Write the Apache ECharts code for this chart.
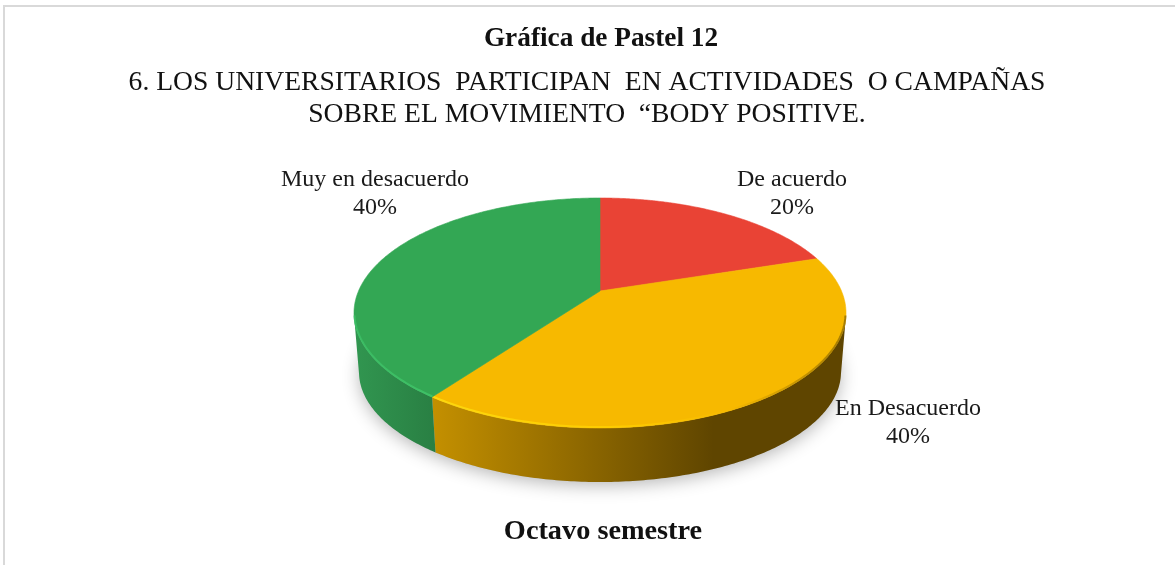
<!DOCTYPE html>
<html><head><meta charset="utf-8">
<style>html,body{margin:0;padding:0;background:#fff}#c{width:1175px;height:565px}</style>
<script src="https://cdn.jsdelivr.net/npm/echarts@6/dist/echarts.min.js"></script>
</head><body><div id="c"></div>
<script>
const categories = ['De acuerdo', 'En Desacuerdo', 'Muy en desacuerdo'];
const seriesValues = [20, 40, 40];
const sliceColors = ['#E94335', '#F7B900', '#33A754'];
const wallStops = [
  ['#8f2a20', '#8f2a20'],
  ['#C49000', '#5F4500'],
  ['#319650', '#297F43']
];
const labelCenters = [[792, 193.5], [908, 422.5], [375, 193.5]];
const titleLines = [
  {text: 'Gráfica de Pastel 12', x: 601, y: 39, size: 27.3, weight: 'bold'},
  {text: '6. LOS UNIVERSITARIOS  PARTICIPAN  EN ACTIVIDADES  O CAMPAÑAS', x: 587, y: 83, size: 27.6, weight: 'normal'},
  {text: 'SOBRE EL MOVIMIENTO  “BODY POSITIVE.', x: 587, y: 115, size: 27.6, weight: 'normal'},
  {text: 'Octavo semestre', x: 603, y: 532, size: 28.3, weight: 'bold'}
];

const FONT = '"Liberation Serif","Times New Roman",serif';
const topE = {cx: 600, cy: 313, rx: 246, ry: 115};
const botE = {cx: 600, cy: 372, rx: 241, ry: 110};
const apexShift = (291 - 313) / 115;   // perspective: where the pie centre lands inside the ellipse
const total = seriesValues.reduce((a, b) => a + b, 0);

// true pie angle -> normalised position on the perspective-projected disc
function project(theta, r) {
  const x = r * Math.sin(theta), y = -r * Math.cos(theta), c = apexShift;
  const d = 1 + c * y;
  return [x * Math.sqrt(1 - c * c) / d, (y + c) / d];
}
const onEllipse = (p, e) => [e.cx + p[0] * e.rx, e.cy + p[1] * e.ry];

function renderSlice(params, api) {
  const i = params.dataIndex;
  let before = 0;
  for (let k = 0; k < i; k++) before += seriesValues[k];
  const a0 = before / total * 2 * Math.PI;
  const a1 = (before + api.value(0)) / total * 2 * Math.PI;
  const STEPS = 200;
  const rim = [];
  for (let s = 0; s <= STEPS; s++) rim.push(project(a0 + (a1 - a0) * s / STEPS, 1));
  const children = [];

  // outer wall: only the part of the rim on the front half
  const front = rim.filter(p => p[1] >= 0.02);
  if (front.length > 1) {
    const t = front.map(p => onEllipse(p, topE));
    const b = front.map(p => onEllipse(p, botE)).reverse();
    const flatEnd = i === 1 ? 0.68 : 1;
    children.push({
      type: 'polygon', shape: {points: t.concat(b)},
      style: {
        fill: new echarts.graphic.LinearGradient(0, 0, 1, 0, i === 2
          ? [{offset: 0, color: wallStops[i][0]}, {offset: 1, color: wallStops[i][1]}]
          : [{offset: 0, color: wallStops[i][0]}, {offset: flatEnd, color: wallStops[i][1]}, {offset: 1, color: wallStops[i][1]}]),
        stroke: null
      }
    });
  }

  // top face
  const pts = rim.map(p => onEllipse(p, topE));
  const apex = onEllipse(project(0, 0), topE);
  children.push({
    type: 'polygon', shape: {points: [apex].concat(pts)},
    style: {fill: sliceColors[i], stroke: sliceColors[i], lineWidth: 0.6}
  });

  // bright bevel along the inner edge of the front rim
  if (front.length > 1) {
    const inner = front.map(p => onEllipse([p[0] * 0.998, p[1] * 0.992], topE));
    children.push({
      type: 'polyline', shape: {points: inner},
      style: {
        fill: null, lineWidth: 2, opacity: 0.8,
        stroke: new echarts.graphic.LinearGradient(0, 0, 1, 0, i === 1
          ? [{offset: 0, color: '#FFE010'}, {offset: 0.45, color: '#FFD000'}, {offset: 0.72, color: '#F7B900'}, {offset: 1, color: '#8f6b00'}]
          : [{offset: 0, color: '#3CC066'}, {offset: 1, color: '#40C86A'}])
      }
    });
  }

  // data label
  children.push({
    type: 'text',
    style: {
      text: categories[i] + '\n' + Math.round(api.value(0) / total * 100) + '%',
      x: labelCenters[i][0], y: labelCenters[i][1],
      align: 'center', verticalAlign: 'middle',
      font: '24px ' + FONT, lineHeight: 28, fill: '#1a1a1a'
    }
  });
  return {type: 'group', children};
}

const chart = echarts.init(document.getElementById('c'), null, {renderer: 'canvas'});
chart.setOption({
  animation: false,
  backgroundColor: '#fff',
  title: titleLines.map(t => ({
    text: t.text, left: t.x, top: t.y, textAlign: 'center', textVerticalAlign: 'middle', padding: 0,
    textStyle: {fontFamily: FONT, fontSize: t.size, fontWeight: t.weight, color: '#111'}
  })),
  graphic: [
    {type: 'polyline', z: 0, silent: true,
     shape: {points: [[4, 565], [4, 6], [1175, 6]]},
     style: {fill: null, stroke: '#D9D9D9', lineWidth: 2}},
    {type: 'ellipse', z: 0, silent: true,
     shape: {cx: botE.cx, cy: botE.cy + 1, rx: botE.rx - 1, ry: botE.ry - 1},
     style: {fill: '#bbb', shadowBlur: 18, shadowColor: 'rgba(0,0,0,0.3)', shadowOffsetY: 3}}
  ],
  series: [{
    type: 'custom', coordinateSystem: 'none', z: 5,
    renderItem: renderSlice, silent: true,
    data: seriesValues.map((v, i) => ({name: categories[i], value: [v]}))
  }]
});
</script></body></html>
